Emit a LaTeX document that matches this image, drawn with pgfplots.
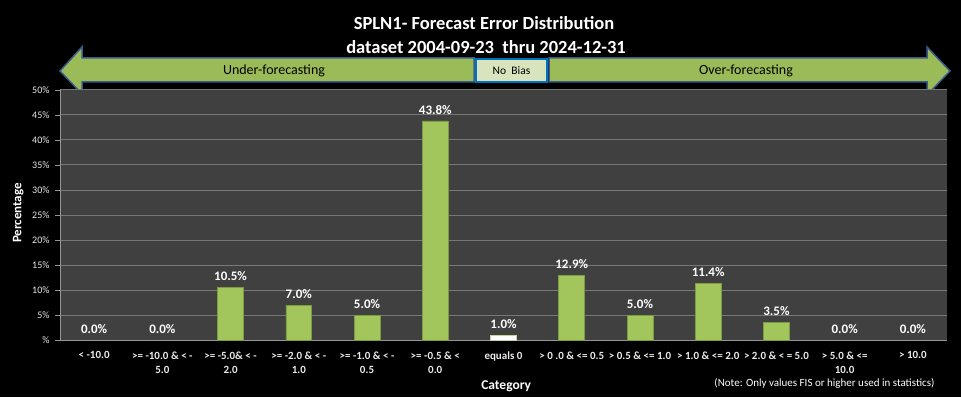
\documentclass[border=0pt]{standalone}
\usepackage{pgfplots}
\pgfplotsset{compat=1.18}
\usepackage{fontspec}
\setmainfont{Carlito}
\definecolor{plotbg}{RGB}{64,64,64}
\definecolor{gridc}{RGB}{120,120,120}
\definecolor{axisc}{RGB}{150,150,150}
\definecolor{ticktxt}{RGB}{235,235,235}
\definecolor{arrowg}{RGB}{155,187,89}
\definecolor{arrowb}{RGB}{56,93,138}
\definecolor{nobiasf}{RGB}{215,228,189}
\definecolor{nobiasb}{RGB}{0,112,192}
\definecolor{barg}{RGB}{163,198,92}
\definecolor{bard}{RGB}{125,155,65}
\definecolor{barw}{RGB}{195,214,155}
\begin{document}
\begin{tikzpicture}
\begin{scope}[x=1pt,y=1pt]
\fill[black] (0,0) rectangle (961,397);
% titles
\node[text=white,font=\bfseries\fontsize{18.5}{22}\selectfont] at (484,397-23) {SPLN1- Forecast Error Distribution};
\node[text=white,font=\bfseries\fontsize{18.5}{22}\selectfont] at (486,397-47) {dataset 2004-09-23\ \ thru 2024-12-31};
% arrows
\filldraw[fill=arrowg,draw=arrowb,line width=1.5pt,line join=miter]
  (60,397-71) -- (82,397-47) -- (82,397-58) -- (474,397-58) -- (474,397-82) -- (82,397-82) -- (82,397-94) -- cycle;
\filldraw[fill=arrowg,draw=arrowb,line width=1.5pt,line join=miter]
  (549,397-58) -- (927,397-58) -- (927,397-47) -- (950,397-71) -- (927,397-95) -- (927,397-82) -- (549,397-82) -- cycle;
\filldraw[fill=nobiasf,draw=nobiasb,line width=2pt] (476,397-59) rectangle (547,397-82);
\node[text=black,font=\fontsize{11.5}{13}\selectfont] at (511.5,397-70.5) {No\ \ Bias};
\node[text=black,font=\fontsize{14}{16}\selectfont] at (274,397-71) {Under-forecasting};
\node[text=black,font=\fontsize{14}{16}\selectfont] at (746,397-71) {Over-forecasting};
\node[anchor=east,text=white,font=\fontsize{11}{13}\selectfont] at (938,397-383) {(Note: Only values FIS or higher used in statistics)};
\end{scope}
\begin{axis}[
  at={(60pt,57pt)}, anchor=south west,
  scale only axis, width=887pt, height=250pt,
  xmin=-0.5, xmax=12.5, ymin=0, ymax=50,
  axis background/.style={fill=plotbg},
  axis x line*=bottom, axis y line*=left,
  axis line style={draw=axisc,line width=0.8pt,-},
  ymajorgrids, grid style={draw=gridc,line width=1pt},
  ytick={0,5,...,50},
  yticklabels={\%,5\%,10\%,15\%,20\%,25\%,30\%,35\%,40\%,45\%,50\%},
  yticklabel style={text=ticktxt,font=\fontsize{10}{12}\selectfont,xshift=-2pt},
  xtick={0,...,12},
  xticklabels={{< -10.0},{>= -10.0 \& < -\\5.0},{>= -5.0\& < -\\2.0},{>= -2.0 \& < -\\1.0},{>= -1.0 \& < -\\0.5},{>= -0.5 \& <\\0.0},{equals 0},{> 0 .0 \& <= 0.5},{> 0.5 \& <= 1.0},{> 1.0 \& <= 2.0},{> 2.0 \& < = 5.0},{> 5.0 \& <=\\10.0},{> 10.0}},
  xticklabel style={text=ticktxt,font=\bfseries\fontsize{11}{14}\selectfont,align=center,anchor=north,yshift=-3pt},
  major x tick style={draw=none},
  extra x ticks={-0.5,0.5,...,12.5},
  extra x tick labels={},
  extra x tick style={grid=none,major tick length=5pt,tick style={draw=axisc,line width=0.8pt}},
  major tick length=5pt,
  tick align=outside,
  ytick style={draw=axisc,line width=0.8pt},
  ylabel={Percentage},
  ylabel style={text=white,font=\bfseries\fontsize{13}{15}\selectfont,at={(axis description cs:-0.047,0.508)},anchor=center},
  xlabel={Category},
  xlabel style={text=white,font=\bfseries\fontsize{13.5}{15}\selectfont,at={(axis description cs:0.503,-0.184)},anchor=center},
  clip=false,
  nodes near coords={\pgfmathprintnumber[assume math mode=true,fixed,fixed zerofill,precision=1]{\pgfplotspointmeta}\%},
  every node near coord/.append style={text=white,font=\bfseries\fontsize{13}{15}\selectfont,yshift=3pt},
]
\addplot[ybar,bar width=0.38,bar shift=0pt,fill=barg,draw=bard,line width=0.6pt]
  coordinates {(2,10.5) (3,7.0) (4,5.0) (5,43.8) (7,12.9) (8,5.0) (9,11.4) (10,3.5)};
\addplot[ybar,bar width=0.38,bar shift=0pt,fill=white,draw=barw,line width=1pt]
  coordinates {(6,1.0)};
\addplot[ybar,bar width=0.38,bar shift=0pt,fill=none,draw=none]
  coordinates {(0,0) (1,0) (11,0) (12,0)};
\end{axis}
\pgfresetboundingbox
\useasboundingbox (0,0) rectangle (961pt,397pt);
\end{tikzpicture}
\end{document}
